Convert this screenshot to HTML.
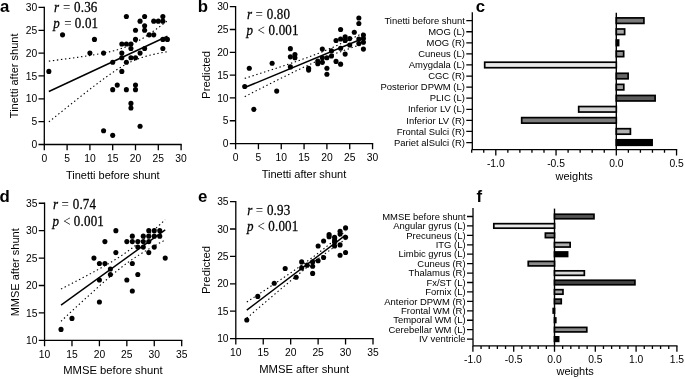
<!DOCTYPE html>
<html><head><meta charset="utf-8"><style>
html,body{margin:0;padding:0;background:#fff;}
svg{display:block;will-change:transform;}
.tk{font-family:'Liberation Sans', sans-serif;font-size:10.3px;fill:#000;}
.ti{font-family:'Liberation Sans', sans-serif;font-size:11px;fill:#000;}
.bl{font-family:'Liberation Sans', sans-serif;font-size:9.45px;fill:#000;}
.st{font-family:'Liberation Serif', serif;font-size:13px;fill:#000;stroke:#000;stroke-width:0.25px;}
.sn{letter-spacing:0.2px;}
.pl{font-family:'Liberation Sans', sans-serif;font-size:16.8px;font-weight:bold;fill:#000;}
</style></head><body>
<svg width="685" height="379" viewBox="0 0 685 379">
<rect width="685" height="379" fill="#fff"/>
<path d="M44.3,7.43V144.5H181.1" fill="none" stroke="#000" stroke-width="1.3" stroke-linecap="square"/>
<path d="M38.5,144.5H44.3M38.5,121.66H44.3M38.5,98.81H44.3M38.5,75.97H44.3M38.5,53.12H44.3M38.5,30.28H44.3M38.5,7.43H44.3M44.3,144.5V150.3M67.1,144.5V150.3M89.9,144.5V150.3M112.7,144.5V150.3M135.5,144.5V150.3M158.3,144.5V150.3M181.1,144.5V150.3" fill="none" stroke="#000" stroke-width="1.3"/>
<text x="37.2" y="148.1" text-anchor="end" class="tk">0</text>
<text x="37.2" y="125.25" text-anchor="end" class="tk">5</text>
<text x="37.2" y="102.41" text-anchor="end" class="tk">10</text>
<text x="37.2" y="79.56" text-anchor="end" class="tk">15</text>
<text x="37.2" y="56.72" text-anchor="end" class="tk">20</text>
<text x="37.2" y="33.88" text-anchor="end" class="tk">25</text>
<text x="37.2" y="11.03" text-anchor="end" class="tk">30</text>
<text x="44.3" y="161.7" text-anchor="middle" class="tk">0</text>
<text x="67.1" y="161.7" text-anchor="middle" class="tk">5</text>
<text x="89.9" y="161.7" text-anchor="middle" class="tk">10</text>
<text x="112.7" y="161.7" text-anchor="middle" class="tk">15</text>
<text x="135.5" y="161.7" text-anchor="middle" class="tk">20</text>
<text x="158.3" y="161.7" text-anchor="middle" class="tk">25</text>
<text x="181.1" y="161.7" text-anchor="middle" class="tk">30</text>
<text x="112.8" y="178.8" text-anchor="middle" class="ti">Tinetti before shunt</text>
<text transform="translate(18,75.85) rotate(-90)" text-anchor="middle" class="ti">Tinetti after shunt</text>
<polyline points="48.86,61.11 50.84,60.86 52.81,60.61 54.79,60.36 56.76,60.11 58.74,59.86 60.72,59.6 62.69,59.34 64.67,59.08 66.64,58.82 68.62,58.55 70.6,58.29 72.57,58.02 74.55,57.74 76.52,57.47 78.5,57.18 80.48,56.9 82.45,56.61 84.43,56.32 86.4,56.02 88.38,55.71 90.36,55.4 92.33,55.08 94.31,54.75 96.28,54.41 98.26,54.06 100.24,53.7 102.21,53.33 104.19,52.94 106.16,52.53 108.14,52.1 110.12,51.66 112.09,51.18 114.07,50.68 116.04,50.15 118.02,49.59 120,48.98 121.97,48.33 123.95,47.64 125.92,46.89 127.9,46.09 129.88,45.23 131.85,44.32 133.83,43.34 135.8,42.32 137.78,41.23 139.76,40.1 141.73,38.92 143.71,37.69 145.68,36.42 147.66,35.12 149.64,33.79 151.61,32.42 153.59,31.03 155.56,29.62 157.54,28.19 159.52,26.74 161.49,25.28 163.47,23.8 165.44,22.31 167.42,20.81" fill="none" stroke="#000" stroke-width="1.1" stroke-dasharray="1.4 2.65"/>
<polyline points="48.86,121.89 50.84,120.29 52.81,118.7 54.79,117.11 56.76,115.52 58.74,113.94 60.72,112.35 62.69,110.77 64.67,109.19 66.64,107.61 68.62,106.03 70.6,104.46 72.57,102.89 74.55,101.32 76.52,99.76 78.5,98.19 80.48,96.64 82.45,95.09 84.43,93.54 86.4,92 88.38,90.46 90.36,88.93 92.33,87.41 94.31,85.9 96.28,84.4 98.26,82.91 100.24,81.43 102.21,79.96 104.19,78.51 106.16,77.07 108.14,75.66 110.12,74.26 112.09,72.89 114.07,71.55 116.04,70.24 118.02,68.97 120,67.73 121.97,66.54 123.95,65.39 125.92,64.3 127.9,63.26 129.88,62.27 131.85,61.35 133.83,60.48 135.8,59.67 137.78,58.91 139.76,58.2 141.73,57.54 143.71,56.93 145.68,56.35 147.66,55.81 149.64,55.31 151.61,54.83 153.59,54.38 155.56,53.95 157.54,53.54 159.52,53.14 161.49,52.77 163.47,52.4 165.44,52.05 167.42,51.71" fill="none" stroke="#000" stroke-width="1.1" stroke-dasharray="1.4 2.65"/>
<line x1="48.86" y1="91.5" x2="167.42" y2="36.26" stroke="#000" stroke-width="1.45"/>
<circle cx="48.86" cy="71.4" r="2.55"/>
<circle cx="62.54" cy="34.84" r="2.55"/>
<circle cx="89.9" cy="53.12" r="2.55"/>
<circle cx="94.46" cy="39.41" r="2.55"/>
<circle cx="103.58" cy="53.12" r="2.55"/>
<circle cx="103.58" cy="130.79" r="2.55"/>
<circle cx="112.7" cy="135.36" r="2.55"/>
<circle cx="112.7" cy="89.67" r="2.55"/>
<circle cx="112.7" cy="62.26" r="2.55"/>
<circle cx="117.26" cy="85.1" r="2.55"/>
<circle cx="121.82" cy="71.4" r="2.55"/>
<circle cx="121.82" cy="57.69" r="2.55"/>
<circle cx="121.82" cy="53.12" r="2.55"/>
<circle cx="121.82" cy="43.98" r="2.55"/>
<circle cx="126.38" cy="89.67" r="2.55"/>
<circle cx="126.38" cy="62.26" r="2.55"/>
<circle cx="126.38" cy="43.98" r="2.55"/>
<circle cx="126.38" cy="16.57" r="2.55"/>
<circle cx="130.94" cy="107.95" r="2.55"/>
<circle cx="130.94" cy="103.38" r="2.55"/>
<circle cx="130.94" cy="57.69" r="2.55"/>
<circle cx="130.94" cy="48.55" r="2.55"/>
<circle cx="130.94" cy="43.98" r="2.55"/>
<circle cx="135.5" cy="89.67" r="2.55"/>
<circle cx="135.5" cy="85.1" r="2.55"/>
<circle cx="135.5" cy="57.69" r="2.55"/>
<circle cx="135.5" cy="39.41" r="2.55"/>
<circle cx="135.5" cy="30.28" r="2.55"/>
<circle cx="140.06" cy="126.22" r="2.55"/>
<circle cx="140.06" cy="53.12" r="2.55"/>
<circle cx="140.06" cy="21.14" r="2.55"/>
<circle cx="144.62" cy="48.55" r="2.55"/>
<circle cx="144.62" cy="30.28" r="2.55"/>
<circle cx="144.62" cy="25.71" r="2.55"/>
<circle cx="144.62" cy="16.57" r="2.55"/>
<circle cx="149.18" cy="34.84" r="2.55"/>
<circle cx="153.74" cy="34.84" r="2.55"/>
<circle cx="153.74" cy="21.14" r="2.55"/>
<circle cx="158.3" cy="21.14" r="2.55"/>
<circle cx="162.86" cy="48.55" r="2.55"/>
<circle cx="162.86" cy="39.41" r="2.55"/>
<circle cx="162.86" cy="21.14" r="2.55"/>
<circle cx="162.86" cy="16.57" r="2.55"/>
<circle cx="167.42" cy="39.41" r="2.55"/>
<g transform="translate(0,11.7) scale(1,1.04)">
<text x="54" y="0" class="st" font-style="italic">r</text>
<text x="62.9" y="0" class="st" style="stroke:none">=</text>
<text x="74" y="0" class="st sn">0.36</text></g>
<g transform="translate(0,27.8) scale(1,1.04)">
<text x="53.3" y="0" class="st" font-style="italic">p</text>
<text x="64.2" y="0" class="st" style="stroke:none">=</text>
<text x="74.8" y="0" class="st sn">0.01</text></g>
<text x="0.1" y="11.8" class="pl">a</text>
<path d="M235.6,6.66V143.55H372.55" fill="none" stroke="#000" stroke-width="1.3" stroke-linecap="square"/>
<path d="M229.8,143.55H235.6M229.8,120.74H235.6M229.8,97.92H235.6M229.8,75.11H235.6M229.8,52.29H235.6M229.8,29.48H235.6M229.8,6.66H235.6M235.6,143.55V149.35M258.43,143.55V149.35M281.25,143.55V149.35M304.07,143.55V149.35M326.9,143.55V149.35M349.73,143.55V149.35M372.55,143.55V149.35" fill="none" stroke="#000" stroke-width="1.3"/>
<text x="228.6" y="147.15" text-anchor="end" class="tk">0</text>
<text x="228.6" y="124.34" text-anchor="end" class="tk">5</text>
<text x="228.6" y="101.52" text-anchor="end" class="tk">10</text>
<text x="228.6" y="78.71" text-anchor="end" class="tk">15</text>
<text x="228.6" y="55.89" text-anchor="end" class="tk">20</text>
<text x="228.6" y="33.08" text-anchor="end" class="tk">25</text>
<text x="228.6" y="10.26" text-anchor="end" class="tk">30</text>
<text x="235.6" y="160.8" text-anchor="middle" class="tk">0</text>
<text x="258.43" y="160.8" text-anchor="middle" class="tk">5</text>
<text x="281.25" y="160.8" text-anchor="middle" class="tk">10</text>
<text x="304.07" y="160.8" text-anchor="middle" class="tk">15</text>
<text x="326.9" y="160.8" text-anchor="middle" class="tk">20</text>
<text x="349.73" y="160.8" text-anchor="middle" class="tk">25</text>
<text x="372.55" y="160.8" text-anchor="middle" class="tk">30</text>
<text x="304" y="178" text-anchor="middle" class="ti">Tinetti after shunt</text>
<text transform="translate(210.3,74.9) rotate(-90)" text-anchor="middle" class="ti" style="font-size:11.4px">Predicted</text>
<polyline points="244.73,78.39 246.71,77.76 248.69,77.13 250.66,76.5 252.64,75.86 254.62,75.23 256.6,74.6 258.58,73.96 260.56,73.33 262.53,72.69 264.51,72.05 266.49,71.41 268.47,70.77 270.45,70.13 272.42,69.48 274.4,68.83 276.38,68.19 278.36,67.53 280.34,66.88 282.32,66.22 284.29,65.56 286.27,64.9 288.25,64.23 290.23,63.56 292.21,62.89 294.18,62.21 296.16,61.53 298.14,60.84 300.12,60.14 302.1,59.44 304.07,58.73 306.05,58.01 308.03,57.29 310.01,56.56 311.99,55.81 313.97,55.06 315.94,54.3 317.92,53.52 319.9,52.74 321.88,51.94 323.86,51.13 325.83,50.31 327.81,49.47 329.79,48.63 331.77,47.77 333.75,46.9 335.73,46.02 337.7,45.13 339.68,44.23 341.66,43.32 343.64,42.4 345.62,41.47 347.59,40.54 349.57,39.6 351.55,38.65 353.53,37.7 355.51,36.74 357.49,35.78 359.46,34.81 361.44,33.84 363.42,32.86" fill="none" stroke="#000" stroke-width="1.1" stroke-dasharray="1.4 2.65"/>
<polyline points="244.73,96.65 246.71,95.63 248.69,94.62 250.66,93.61 252.64,92.6 254.62,91.6 256.6,90.59 258.58,89.58 260.56,88.58 262.53,87.57 264.51,86.57 266.49,85.57 268.47,84.57 270.45,83.57 272.42,82.57 274.4,81.58 276.38,80.59 278.36,79.6 280.34,78.61 282.32,77.63 284.29,76.65 286.27,75.67 288.25,74.69 290.23,73.72 292.21,72.76 294.18,71.79 296.16,70.84 298.14,69.88 300.12,68.94 302.1,68 304.07,67.07 306.05,66.14 308.03,65.23 310.01,64.32 311.99,63.42 313.97,62.53 315.94,61.65 317.92,60.79 319.9,59.93 321.88,59.09 323.86,58.26 325.83,57.44 327.81,56.63 329.79,55.84 331.77,55.05 333.75,54.28 335.73,53.52 337.7,52.77 339.68,52.03 341.66,51.3 343.64,50.57 345.62,49.86 347.59,49.15 349.57,48.45 351.55,47.76 353.53,47.07 355.51,46.39 357.49,45.71 359.46,45.04 361.44,44.37 363.42,43.7" fill="none" stroke="#000" stroke-width="1.1" stroke-dasharray="1.4 2.65"/>
<line x1="244.73" y1="87.52" x2="363.42" y2="38.28" stroke="#000" stroke-width="1.45"/>
<circle cx="244.73" cy="86.51" r="2.55"/>
<circle cx="249.29" cy="68.26" r="2.55"/>
<circle cx="253.86" cy="109.33" r="2.55"/>
<circle cx="272.12" cy="63.24" r="2.55"/>
<circle cx="276.69" cy="91.08" r="2.55"/>
<circle cx="290.38" cy="66.89" r="2.55"/>
<circle cx="290.38" cy="56.85" r="2.55"/>
<circle cx="290.38" cy="48.64" r="2.55"/>
<circle cx="294.94" cy="54.57" r="2.55"/>
<circle cx="294.94" cy="57.77" r="2.55"/>
<circle cx="308.64" cy="68.26" r="2.55"/>
<circle cx="308.64" cy="70.09" r="2.55"/>
<circle cx="317.77" cy="60.96" r="2.55"/>
<circle cx="317.77" cy="63.7" r="2.55"/>
<circle cx="322.34" cy="49.1" r="2.55"/>
<circle cx="322.34" cy="62.33" r="2.55"/>
<circle cx="322.34" cy="57.77" r="2.55"/>
<circle cx="326.9" cy="57.77" r="2.55"/>
<circle cx="326.9" cy="68.26" r="2.55"/>
<circle cx="326.9" cy="74.19" r="2.55"/>
<circle cx="331.47" cy="50.92" r="2.55"/>
<circle cx="331.47" cy="55.94" r="2.55"/>
<circle cx="336.03" cy="40.43" r="2.55"/>
<circle cx="336.03" cy="61.42" r="2.55"/>
<circle cx="340.6" cy="29.48" r="2.55"/>
<circle cx="340.6" cy="39.06" r="2.55"/>
<circle cx="340.6" cy="48.18" r="2.55"/>
<circle cx="340.6" cy="64.15" r="2.55"/>
<circle cx="345.16" cy="36.78" r="2.55"/>
<circle cx="345.16" cy="40.43" r="2.55"/>
<circle cx="345.16" cy="54.12" r="2.55"/>
<circle cx="349.73" cy="38.6" r="2.55"/>
<circle cx="349.73" cy="44.99" r="2.55"/>
<circle cx="354.29" cy="32.21" r="2.55"/>
<circle cx="358.86" cy="18.07" r="2.55"/>
<circle cx="358.86" cy="23.54" r="2.55"/>
<circle cx="358.86" cy="39.06" r="2.55"/>
<circle cx="358.86" cy="43.62" r="2.55"/>
<circle cx="363.42" cy="34.95" r="2.55"/>
<circle cx="363.42" cy="38.6" r="2.55"/>
<circle cx="363.42" cy="42.25" r="2.55"/>
<circle cx="363.42" cy="49.1" r="2.55"/>
<g transform="translate(0,19.2) scale(1,1.04)">
<text x="247" y="0" class="st" font-style="italic">r</text>
<text x="255.6" y="0" class="st" style="stroke:none">=</text>
<text x="266.7" y="0" class="st sn">0.80</text></g>
<g transform="translate(0,35.1) scale(1,1.04)">
<text x="246.6" y="0" class="st" font-style="italic">p</text>
<text x="257.5" y="0" class="st" style="stroke:none">&lt;</text>
<text x="268.5" y="0" class="st sn">0.001</text></g>
<text x="197.8" y="11.8" class="pl">b</text>
<path d="M44.56,203.23V340.35H181.69" fill="none" stroke="#000" stroke-width="1.3" stroke-linecap="square"/>
<path d="M38.76,340.35H44.56M38.76,312.93H44.56M38.76,285.5H44.56M38.76,258.08H44.56M38.76,230.65H44.56M38.76,203.23H44.56M44.56,340.35V346.15M71.98,340.35V346.15M99.41,340.35V346.15M126.84,340.35V346.15M154.26,340.35V346.15M181.69,340.35V346.15" fill="none" stroke="#000" stroke-width="1.3"/>
<text x="37.4" y="343.95" text-anchor="end" class="tk">10</text>
<text x="37.4" y="316.53" text-anchor="end" class="tk">15</text>
<text x="37.4" y="289.1" text-anchor="end" class="tk">20</text>
<text x="37.4" y="261.68" text-anchor="end" class="tk">25</text>
<text x="37.4" y="234.25" text-anchor="end" class="tk">30</text>
<text x="37.4" y="206.83" text-anchor="end" class="tk">35</text>
<text x="44.56" y="357.6" text-anchor="middle" class="tk">10</text>
<text x="71.98" y="357.6" text-anchor="middle" class="tk">15</text>
<text x="99.41" y="357.6" text-anchor="middle" class="tk">20</text>
<text x="126.84" y="357.6" text-anchor="middle" class="tk">25</text>
<text x="154.26" y="357.6" text-anchor="middle" class="tk">30</text>
<text x="181.69" y="357.6" text-anchor="middle" class="tk">35</text>
<text x="112.9" y="374.3" text-anchor="middle" class="ti" style="font-size:11.25px">MMSE before shunt</text>
<text transform="translate(19,272.3) rotate(-90)" text-anchor="middle" class="ti">MMSE after shunt</text>
<polyline points="61.02,289.02 62.75,288.13 64.49,287.24 66.23,286.35 67.96,285.45 69.7,284.56 71.44,283.66 73.17,282.76 74.91,281.86 76.65,280.96 78.38,280.05 80.12,279.14 81.86,278.23 83.59,277.32 85.33,276.4 87.07,275.48 88.81,274.56 90.54,273.63 92.28,272.7 94.02,271.76 95.75,270.82 97.49,269.87 99.23,268.91 100.96,267.95 102.7,266.97 104.44,265.99 106.17,265 107.91,263.99 109.65,262.98 111.39,261.95 113.12,260.9 114.86,259.84 116.6,258.75 118.33,257.65 120.07,256.53 121.81,255.38 123.54,254.21 125.28,253.01 127.02,251.78 128.75,250.53 130.49,249.26 132.23,247.95 133.97,246.62 135.7,245.27 137.44,243.89 139.18,242.49 140.91,241.06 142.65,239.62 144.39,238.16 146.12,236.69 147.86,235.2 149.6,233.7 151.33,232.19 153.07,230.66 154.81,229.13 156.55,227.58 158.28,226.03 160.02,224.48 161.76,222.91 163.49,221.34 165.23,219.77" fill="none" stroke="#000" stroke-width="1.1" stroke-dasharray="1.4 2.65"/>
<polyline points="61.02,321.24 62.75,319.62 64.49,318 66.23,316.39 67.96,314.77 69.7,313.16 71.44,311.54 73.17,309.93 74.91,308.32 76.65,306.72 78.38,305.11 80.12,303.51 81.86,301.91 83.59,300.32 85.33,298.72 87.07,297.13 88.81,295.55 90.54,293.97 92.28,292.39 94.02,290.82 95.75,289.25 97.49,287.69 99.23,286.14 100.96,284.59 102.7,283.06 104.44,281.53 106.17,280.01 107.91,278.51 109.65,277.02 111.39,275.54 113.12,274.07 114.86,272.63 116.6,271.2 118.33,269.79 120.07,268.41 121.81,267.05 123.54,265.71 125.28,264.4 127.02,263.11 128.75,261.86 130.49,260.62 132.23,259.42 133.97,258.24 135.7,257.09 137.44,255.95 139.18,254.85 140.91,253.76 142.65,252.69 144.39,251.64 146.12,250.6 147.86,249.58 149.6,248.58 151.33,247.58 153.07,246.59 154.81,245.62 156.55,244.65 158.28,243.69 160.02,242.74 161.76,241.8 163.49,240.86 165.23,239.92" fill="none" stroke="#000" stroke-width="1.1" stroke-dasharray="1.4 2.65"/>
<line x1="61.02" y1="305.13" x2="165.23" y2="229.84" stroke="#000" stroke-width="1.45"/>
<circle cx="61.02" cy="329.38" r="2.55"/>
<circle cx="71.98" cy="318.41" r="2.55"/>
<circle cx="93.93" cy="258.08" r="2.55"/>
<circle cx="99.41" cy="263.56" r="2.55"/>
<circle cx="99.41" cy="280.02" r="2.55"/>
<circle cx="99.41" cy="301.96" r="2.55"/>
<circle cx="104.9" cy="241.62" r="2.55"/>
<circle cx="104.9" cy="263.56" r="2.55"/>
<circle cx="110.38" cy="269.05" r="2.55"/>
<circle cx="110.38" cy="274.53" r="2.55"/>
<circle cx="115.87" cy="230.65" r="2.55"/>
<circle cx="115.87" cy="252.59" r="2.55"/>
<circle cx="126.84" cy="241.62" r="2.55"/>
<circle cx="126.84" cy="280.02" r="2.55"/>
<circle cx="132.32" cy="236.14" r="2.55"/>
<circle cx="132.32" cy="241.62" r="2.55"/>
<circle cx="132.32" cy="263.56" r="2.55"/>
<circle cx="132.32" cy="290.99" r="2.55"/>
<circle cx="137.81" cy="241.62" r="2.55"/>
<circle cx="137.81" cy="247.11" r="2.55"/>
<circle cx="137.81" cy="274.53" r="2.55"/>
<circle cx="143.29" cy="236.14" r="2.55"/>
<circle cx="143.29" cy="241.62" r="2.55"/>
<circle cx="143.29" cy="247.11" r="2.55"/>
<circle cx="148.78" cy="230.65" r="2.55"/>
<circle cx="148.78" cy="236.14" r="2.55"/>
<circle cx="148.78" cy="241.62" r="2.55"/>
<circle cx="148.78" cy="252.59" r="2.55"/>
<circle cx="154.26" cy="230.65" r="2.55"/>
<circle cx="154.26" cy="236.14" r="2.55"/>
<circle cx="154.26" cy="247.11" r="2.55"/>
<circle cx="159.75" cy="230.65" r="2.55"/>
<circle cx="159.75" cy="236.14" r="2.55"/>
<circle cx="165.23" cy="258.08" r="2.55"/>
<g transform="translate(0,209.4) scale(1,1.04)">
<text x="53" y="0" class="st" font-style="italic">r</text>
<text x="61.6" y="0" class="st" style="stroke:none">=</text>
<text x="72.7" y="0" class="st sn">0.74</text></g>
<g transform="translate(0,225.7) scale(1,1.04)">
<text x="52.6" y="0" class="st" font-style="italic">p</text>
<text x="63.2" y="0" class="st" style="stroke:none">&lt;</text>
<text x="73.8" y="0" class="st sn">0.001</text></g>
<text x="-0.4" y="201.7" class="pl">d</text>
<path d="M235.8,201.6V338.6H373" fill="none" stroke="#000" stroke-width="1.3" stroke-linecap="square"/>
<path d="M230,338.6H235.8M230,311.2H235.8M230,283.8H235.8M230,256.4H235.8M230,229H235.8M230,201.6H235.8M235.8,338.6V344.4M263.24,338.6V344.4M290.68,338.6V344.4M318.12,338.6V344.4M345.56,338.6V344.4M373,338.6V344.4" fill="none" stroke="#000" stroke-width="1.3"/>
<text x="228.6" y="342.2" text-anchor="end" class="tk">10</text>
<text x="228.6" y="314.8" text-anchor="end" class="tk">15</text>
<text x="228.6" y="287.4" text-anchor="end" class="tk">20</text>
<text x="228.6" y="260" text-anchor="end" class="tk">25</text>
<text x="228.6" y="232.6" text-anchor="end" class="tk">30</text>
<text x="228.6" y="205.2" text-anchor="end" class="tk">35</text>
<text x="235.8" y="355.6" text-anchor="middle" class="tk">10</text>
<text x="263.24" y="355.6" text-anchor="middle" class="tk">15</text>
<text x="290.68" y="355.6" text-anchor="middle" class="tk">20</text>
<text x="318.12" y="355.6" text-anchor="middle" class="tk">25</text>
<text x="345.56" y="355.6" text-anchor="middle" class="tk">30</text>
<text x="373" y="355.6" text-anchor="middle" class="tk">35</text>
<text x="304.2" y="373.2" text-anchor="middle" class="ti" style="font-size:11.25px">MMSE after shunt</text>
<text transform="translate(210.3,270) rotate(-90)" text-anchor="middle" class="ti" style="font-size:11.4px">Predicted</text>
<polyline points="246.78,302.08 248.42,301 250.07,299.91 251.72,298.83 253.36,297.74 255.01,296.66 256.65,295.57 258.3,294.48 259.95,293.39 261.59,292.31 263.24,291.22 264.89,290.13 266.53,289.03 268.18,287.94 269.83,286.85 271.47,285.75 273.12,284.65 274.76,283.56 276.41,282.46 278.06,281.36 279.7,280.25 281.35,279.15 283,278.04 284.64,276.93 286.29,275.81 287.94,274.7 289.58,273.58 291.23,272.45 292.88,271.33 294.52,270.19 296.17,269.06 297.81,267.91 299.46,266.77 301.11,265.61 302.75,264.45 304.4,263.28 306.05,262.1 307.69,260.91 309.34,259.72 310.99,258.51 312.63,257.29 314.28,256.07 315.92,254.83 317.57,253.58 319.22,252.32 320.86,251.04 322.51,249.76 324.16,248.47 325.8,247.17 327.45,245.85 329.1,244.53 330.74,243.2 332.39,241.86 334.04,240.52 335.68,239.17 337.33,237.81 338.97,236.45 340.62,235.08 342.27,233.71 343.91,232.34 345.56,230.96" fill="none" stroke="#000" stroke-width="1.1" stroke-dasharray="1.4 2.65"/>
<polyline points="246.78,318.13 248.42,316.71 250.07,315.3 251.72,313.88 253.36,312.47 255.01,311.06 256.65,309.64 258.3,308.23 259.95,306.82 261.59,305.41 263.24,304 264.89,302.59 266.53,301.19 268.18,299.78 269.83,298.38 271.47,296.97 273.12,295.57 274.76,294.17 276.41,292.77 278.06,291.37 279.7,289.98 281.35,288.59 283,287.19 284.64,285.81 286.29,284.42 287.94,283.04 289.58,281.66 291.23,280.28 292.88,278.91 294.52,277.55 296.17,276.19 297.81,274.83 299.46,273.48 301.11,272.13 302.75,270.8 304.4,269.47 306.05,268.15 307.69,266.84 309.34,265.53 310.99,264.24 312.63,262.96 314.28,261.69 315.92,260.43 317.57,259.18 319.22,257.94 320.86,256.71 322.51,255.5 324.16,254.29 325.8,253.1 327.45,251.91 329.1,250.73 330.74,249.56 332.39,248.4 334.04,247.25 335.68,246.1 337.33,244.96 338.97,243.82 340.62,242.69 342.27,241.56 343.91,240.44 345.56,239.32" fill="none" stroke="#000" stroke-width="1.1" stroke-dasharray="1.4 2.65"/>
<line x1="246.78" y1="310.1" x2="345.56" y2="235.14" stroke="#000" stroke-width="1.45"/>
<circle cx="246.78" cy="319.97" r="2.55"/>
<circle cx="257.75" cy="296.4" r="2.55"/>
<circle cx="274.22" cy="283.25" r="2.55"/>
<circle cx="285.19" cy="268.46" r="2.55"/>
<circle cx="296.17" cy="277.22" r="2.55"/>
<circle cx="301.66" cy="261.88" r="2.55"/>
<circle cx="301.66" cy="267.91" r="2.55"/>
<circle cx="307.14" cy="265.17" r="2.55"/>
<circle cx="312.63" cy="261.88" r="2.55"/>
<circle cx="312.63" cy="266.26" r="2.55"/>
<circle cx="312.63" cy="273.39" r="2.55"/>
<circle cx="318.12" cy="245.99" r="2.55"/>
<circle cx="318.12" cy="260.78" r="2.55"/>
<circle cx="323.61" cy="241.06" r="2.55"/>
<circle cx="323.61" cy="257.5" r="2.55"/>
<circle cx="329.1" cy="234.48" r="2.55"/>
<circle cx="329.1" cy="236.67" r="2.55"/>
<circle cx="334.58" cy="237.22" r="2.55"/>
<circle cx="334.58" cy="239.96" r="2.55"/>
<circle cx="334.58" cy="242.15" r="2.55"/>
<circle cx="334.58" cy="245.99" r="2.55"/>
<circle cx="340.07" cy="231.19" r="2.55"/>
<circle cx="340.07" cy="233.93" r="2.55"/>
<circle cx="340.07" cy="244.89" r="2.55"/>
<circle cx="340.07" cy="255.3" r="2.55"/>
<circle cx="345.56" cy="227.9" r="2.55"/>
<circle cx="345.56" cy="237.22" r="2.55"/>
<circle cx="345.56" cy="252.56" r="2.55"/>
<g transform="translate(0,214.9) scale(1,1.04)">
<text x="247.2" y="0" class="st" font-style="italic">r</text>
<text x="255.8" y="0" class="st" style="stroke:none">=</text>
<text x="266.9" y="0" class="st sn">0.93</text></g>
<g transform="translate(0,230.5) scale(1,1.04)">
<text x="246.9" y="0" class="st" font-style="italic">p</text>
<text x="257.4" y="0" class="st" style="stroke:none">&lt;</text>
<text x="268.3" y="0" class="st sn">0.001</text></g>
<text x="198" y="201.6" class="pl">e</text>
<path d="M472.3,12.8V149.6H676.55" fill="none" stroke="#000" stroke-width="1.3" stroke-linecap="square"/>
<line x1="616.3" y1="12.8" x2="616.3" y2="149.6" stroke="#000" stroke-width="1.4"/>
<path d="M466.3,20.65H472.3M466.3,31.73H472.3M466.3,42.81H472.3M466.3,53.89H472.3M466.3,64.97H472.3M466.3,76.05H472.3M466.3,87.13H472.3M466.3,98.21H472.3M466.3,109.29H472.3M466.3,120.37H472.3M466.3,131.45H472.3M466.3,142.53H472.3M471.7,149.6V152.8M483.75,149.6V152.8M495.8,149.6V155.4M507.85,149.6V152.8M519.9,149.6V152.8M531.95,149.6V152.8M544,149.6V152.8M556.05,149.6V155.4M568.1,149.6V152.8M580.15,149.6V152.8M592.2,149.6V152.8M604.25,149.6V152.8M616.3,149.6V155.4M628.35,149.6V152.8M640.4,149.6V152.8M652.45,149.6V152.8M664.5,149.6V152.8M676.55,149.6V155.4" fill="none" stroke="#000" stroke-width="1.3"/>
<text x="464.9" y="23.85" text-anchor="end" class="bl">Tinetti before shunt</text>
<rect x="616.3" y="17.9" width="27.61" height="5.5" fill="#7a7a7a" stroke="#000" stroke-width="1.7"/>
<text x="464.9" y="34.93" text-anchor="end" class="bl">MOG (L)</text>
<rect x="616.3" y="28.98" width="8.33" height="5.5" fill="#a8a8a8" stroke="#000" stroke-width="1.7"/>
<text x="464.9" y="46.01" text-anchor="end" class="bl">MOG (R)</text>
<rect x="616.3" y="40.06" width="2.3" height="5.5" fill="#000" stroke="#000" stroke-width="1.7"/>
<text x="464.9" y="57.09" text-anchor="end" class="bl">Cuneus (L)</text>
<rect x="616.3" y="51.14" width="7.36" height="5.5" fill="#909090" stroke="#000" stroke-width="1.7"/>
<text x="464.9" y="68.17" text-anchor="end" class="bl">Amygdala (L)</text>
<rect x="484.7" y="62.22" width="131.6" height="5.5" fill="#e8e8e8" stroke="#000" stroke-width="1.7"/>
<text x="464.9" y="79.25" text-anchor="end" class="bl">CGC (R)</text>
<rect x="616.3" y="73.3" width="11.82" height="5.5" fill="#666" stroke="#000" stroke-width="1.7"/>
<text x="464.9" y="90.33" text-anchor="end" class="bl">Posterior DPWM (L)</text>
<rect x="616.3" y="84.38" width="7.48" height="5.5" fill="#a0a0a0" stroke="#000" stroke-width="1.7"/>
<text x="464.9" y="101.41" text-anchor="end" class="bl">PLIC (L)</text>
<rect x="616.3" y="95.46" width="38.81" height="5.5" fill="#5c5c5c" stroke="#000" stroke-width="1.7"/>
<text x="464.9" y="112.49" text-anchor="end" class="bl">Inferior LV (L)</text>
<rect x="578.69" y="106.54" width="37.61" height="5.5" fill="#d2d2d2" stroke="#000" stroke-width="1.7"/>
<text x="464.9" y="123.57" text-anchor="end" class="bl">Inferior LV (R)</text>
<rect x="521.7" y="117.62" width="94.6" height="5.5" fill="#7c7c7c" stroke="#000" stroke-width="1.7"/>
<text x="464.9" y="134.65" text-anchor="end" class="bl">Frontal Sulci (R)</text>
<rect x="616.3" y="128.7" width="14.11" height="5.5" fill="#b0b0b0" stroke="#000" stroke-width="1.7"/>
<text x="464.9" y="145.73" text-anchor="end" class="bl">Pariet alSulci (R)</text>
<rect x="616.3" y="139.78" width="35.8" height="5.5" fill="#000" stroke="#000" stroke-width="1.7"/>
<text x="495.8" y="167" text-anchor="middle" class="tk">-1.0</text>
<text x="556.05" y="167" text-anchor="middle" class="tk">-0.5</text>
<text x="616.3" y="167" text-anchor="middle" class="tk">0.0</text>
<text x="676.55" y="167" text-anchor="middle" class="tk">0.5</text>
<text x="574.2" y="179.5" text-anchor="middle" class="ti">weights</text>
<text x="475.8" y="12.1" class="pl">c</text>
<path d="M473,208.6V345.9H676.9" fill="none" stroke="#000" stroke-width="1.3" stroke-linecap="square"/>
<line x1="554.5" y1="208.6" x2="554.5" y2="345.9" stroke="#000" stroke-width="1.4"/>
<path d="M467,216.5H473M467,225.93H473M467,235.36H473M467,244.79H473M467,254.22H473M467,263.65H473M467,273.08H473M467,282.51H473M467,291.94H473M467,301.37H473M467,310.8H473M467,320.23H473M467,329.66H473M467,339.09H473M472.9,345.9V351.7M481.06,345.9V349.1M489.22,345.9V349.1M497.38,345.9V349.1M505.54,345.9V349.1M513.7,345.9V351.7M521.86,345.9V349.1M530.02,345.9V349.1M538.18,345.9V349.1M546.34,345.9V349.1M554.5,345.9V351.7M562.66,345.9V349.1M570.82,345.9V349.1M578.98,345.9V349.1M587.14,345.9V349.1M595.3,345.9V351.7M603.46,345.9V349.1M611.62,345.9V349.1M619.78,345.9V349.1M627.94,345.9V349.1M636.1,345.9V351.7M644.26,345.9V349.1M652.42,345.9V349.1M660.58,345.9V349.1M668.74,345.9V349.1M676.9,345.9V351.7" fill="none" stroke="#000" stroke-width="1.3"/>
<text x="465.6" y="219.7" text-anchor="end" class="bl">MMSE before shunt</text>
<rect x="554.5" y="214.25" width="39.47" height="4.5" fill="#555" stroke="#000" stroke-width="1.7"/>
<text x="465.6" y="229.13" text-anchor="end" class="bl">Angular gyrus (L)</text>
<rect x="493.81" y="223.68" width="60.69" height="4.5" fill="#e8e8e8" stroke="#000" stroke-width="1.7"/>
<text x="465.6" y="238.56" text-anchor="end" class="bl">Precuneus (L)</text>
<rect x="545.38" y="233.11" width="9.12" height="4.5" fill="#7a7a7a" stroke="#000" stroke-width="1.7"/>
<text x="465.6" y="247.99" text-anchor="end" class="bl">ITG (L)</text>
<rect x="554.5" y="242.54" width="15.64" height="4.5" fill="#b0b0b0" stroke="#000" stroke-width="1.7"/>
<text x="465.6" y="257.42" text-anchor="end" class="bl">Limbic gyrus (L)</text>
<rect x="554.5" y="251.97" width="13.11" height="4.5" fill="#000" stroke="#000" stroke-width="1.7"/>
<text x="465.6" y="266.85" text-anchor="end" class="bl">Cuneus (R)</text>
<rect x="528.25" y="261.4" width="26.25" height="4.5" fill="#8c8c8c" stroke="#000" stroke-width="1.7"/>
<text x="465.6" y="276.28" text-anchor="end" class="bl">Thalamus (R)</text>
<rect x="554.5" y="270.83" width="29.84" height="4.5" fill="#d8d8d8" stroke="#000" stroke-width="1.7"/>
<text x="465.6" y="285.71" text-anchor="end" class="bl">Fx/ST (L)</text>
<rect x="554.5" y="280.26" width="80.43" height="4.5" fill="#444" stroke="#000" stroke-width="1.7"/>
<text x="465.6" y="295.14" text-anchor="end" class="bl">Fornix (L)</text>
<rect x="554.5" y="289.69" width="8.46" height="4.5" fill="#a8a8a8" stroke="#000" stroke-width="1.7"/>
<text x="465.6" y="304.57" text-anchor="end" class="bl">Anterior DPWM (R)</text>
<rect x="554.5" y="299.12" width="6.75" height="4.5" fill="#555" stroke="#000" stroke-width="1.7"/>
<text x="465.6" y="314" text-anchor="end" class="bl">Frontal WM (R)</text>
<rect x="553.22" y="308.55" width="1.28" height="4.5" fill="#888" stroke="#000" stroke-width="1.7"/>
<text x="465.6" y="323.43" text-anchor="end" class="bl">Temporal WM (L)</text>
<rect x="554.5" y="317.98" width="1.28" height="4.5" fill="#888" stroke="#000" stroke-width="1.7"/>
<text x="465.6" y="332.86" text-anchor="end" class="bl">Cerebellar WM (L)</text>
<rect x="554.5" y="327.41" width="32.29" height="4.5" fill="#8c8c8c" stroke="#000" stroke-width="1.7"/>
<text x="465.6" y="342.29" text-anchor="end" class="bl">IV ventricle</text>
<rect x="554.5" y="336.84" width="4.14" height="4.5" fill="#000" stroke="#000" stroke-width="1.7"/>
<text x="472.9" y="363" text-anchor="middle" class="tk">-1.0</text>
<text x="513.7" y="363" text-anchor="middle" class="tk">-0.5</text>
<text x="554.5" y="363" text-anchor="middle" class="tk">0.0</text>
<text x="595.3" y="363" text-anchor="middle" class="tk">0.5</text>
<text x="636.1" y="363" text-anchor="middle" class="tk">1.0</text>
<text x="676.9" y="363" text-anchor="middle" class="tk">1.5</text>
<text x="575.1" y="374.5" text-anchor="middle" class="ti">weights</text>
<text x="476.6" y="201.6" class="pl">f</text>
</svg>
</body></html>
